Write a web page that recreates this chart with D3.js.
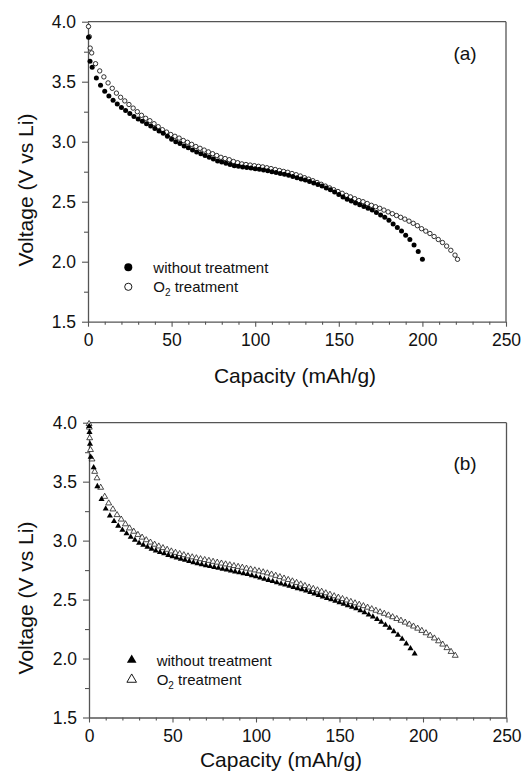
<!DOCTYPE html>
<html lang="en">
<head>
<meta charset="UTF-8">
<title>discharge curves</title>
<style>
    body { margin: 0; background: #fff; }
    svg { display: block; }
    .frame { stroke: #555; stroke-width: 1.3; fill: none; }
    .axis path { stroke: #555; stroke-width: 1.3; }
    .axis line { stroke: #555; stroke-width: 1.1; }
    .axis text { font-family: "Liberation Sans", Arial, sans-serif; font-size: 17.5px; fill: #111; }
    .title { font-family: "Liberation Sans", Arial, sans-serif; font-size: 21px; fill: #111; }
    .tag { font-family: "Liberation Sans", Arial, sans-serif; font-size: 19px; fill: #111; }
    .legend { font-family: "Liberation Sans", Arial, sans-serif; font-size: 15px; fill: #111; }
</style>
<script src="https://d3js.org/d3.v7.min.js"></script>
</head>
<body>
<svg id="chart" width="522" height="778"></svg>
<script>
// ticks
const capTicks = [0, 50, 100, 150, 200, 250];
const capMinor = [10, 20, 30, 40, 60, 70, 80, 90, 110, 120, 130, 140, 160, 170, 180, 190, 210, 220, 230, 240];
const voltTicks = [1.5, 2.0, 2.5, 3.0, 3.5, 4.0];
const voltMinor = [1.75, 2.25, 2.75, 3.25, 3.75];

// panel (a): [capacity mAh/g, voltage V]
const aWithout = [
    [0.3, 3.87], [1.2, 3.67], [2.5, 3.62], [5, 3.53], [7.5, 3.47], [10, 3.42], [12.5, 3.38], [15, 3.345],
    [17.5, 3.315], [20, 3.285], [22.5, 3.26], [25, 3.235], [27.5, 3.21], [30, 3.19], [32.5, 3.17], [35, 3.15],
    [37.5, 3.13], [40, 3.11], [42.5, 3.09], [45, 3.07], [47.5, 3.045], [50, 3.02], [52.5, 3.0], [55, 2.985],
    [57.5, 2.965], [60, 2.95], [62.5, 2.93], [65, 2.915], [67.5, 2.9], [70, 2.885], [72.5, 2.87], [75, 2.855],
    [77.5, 2.84], [80, 2.83], [82.5, 2.82], [85, 2.81], [87.5, 2.8], [90, 2.795], [92.5, 2.79], [95, 2.785],
    [97.5, 2.78], [100, 2.775], [102.5, 2.77], [105, 2.765], [107.5, 2.757], [110, 2.75], [112.5, 2.743], [115, 2.735],
    [117.5, 2.728], [120, 2.72], [122.5, 2.71], [125, 2.7], [127.5, 2.69], [130, 2.68], [132.5, 2.668], [135, 2.655],
    [137.5, 2.643], [140, 2.63], [142.5, 2.615], [145, 2.6], [147.5, 2.58], [150, 2.56], [152.5, 2.54], [155, 2.52],
    [157.5, 2.505], [160, 2.49], [162.5, 2.475], [165, 2.46], [167.5, 2.445], [170, 2.43], [172.5, 2.41], [175, 2.39],
    [177.5, 2.37], [180, 2.345], [182.5, 2.315], [185, 2.285], [187.5, 2.255], [190, 2.22], [192.5, 2.185], [195, 2.14],
    [197.5, 2.085], [200, 2.02]
];
const aO2 = [
    [0.3, 3.96], [0.8, 3.875], [1.3, 3.78], [2.2, 3.74], [4.5, 3.65], [7, 3.59], [9.5, 3.54], [12, 3.49],
    [14.5, 3.445], [17, 3.405], [19.5, 3.37], [22, 3.34], [24.5, 3.31], [27, 3.28], [29.5, 3.25], [32, 3.22],
    [34.5, 3.195], [37, 3.175], [39.5, 3.15], [42, 3.125], [44.5, 3.1], [47, 3.08], [49.5, 3.06], [52, 3.045],
    [54.5, 3.03], [57, 3.01], [59.5, 2.995], [62, 2.978], [64.5, 2.96], [67, 2.945], [69.5, 2.93], [72, 2.915],
    [74.5, 2.9], [77, 2.885], [79.5, 2.87], [82, 2.86], [84.5, 2.85], [87, 2.835], [89.5, 2.825], [92, 2.815],
    [94.5, 2.81], [97, 2.805], [99.5, 2.8], [102, 2.795], [104.5, 2.79], [107, 2.783], [109.5, 2.776], [112, 2.768],
    [114.5, 2.76], [117, 2.752], [119.5, 2.745], [122, 2.735], [124.5, 2.725], [127, 2.714], [129.5, 2.7], [132, 2.688],
    [134.5, 2.675], [137, 2.66], [139.5, 2.645], [142, 2.63], [144.5, 2.615], [147, 2.6], [149.5, 2.585], [152, 2.57],
    [154.5, 2.553], [157, 2.54], [159.5, 2.525], [162, 2.51], [164.5, 2.5], [167, 2.485], [169.5, 2.47], [172, 2.458],
    [174.5, 2.445], [177, 2.43], [179.5, 2.415], [182, 2.4], [184.5, 2.385], [187, 2.37], [189.5, 2.355], [192, 2.338],
    [194.5, 2.32], [197, 2.3], [199.5, 2.275], [202, 2.255], [204.5, 2.235], [207, 2.21], [209.5, 2.185], [212, 2.16],
    [214.5, 2.13], [217, 2.095], [219.5, 2.055], [221, 2.02]
];

// panel (b)
const bWithout = [
    [0.1, 3.97], [0.3, 3.92], [0.6, 3.82], [1, 3.71], [2.8, 3.62], [5, 3.46], [7.5, 3.35], [10, 3.27],
    [12.5, 3.21], [15, 3.165], [17.5, 3.125], [20, 3.09], [22.5, 3.06], [25, 3.03], [27.5, 3.005], [30, 2.98],
    [32.5, 2.962], [35, 2.945], [37.5, 2.93], [40, 2.915], [42.5, 2.902], [45, 2.89], [47.5, 2.877], [50, 2.865],
    [52.5, 2.855], [55, 2.845], [57.5, 2.835], [60, 2.825], [62.5, 2.815], [65, 2.805], [67.5, 2.797], [70, 2.79],
    [72.5, 2.782], [75, 2.775], [77.5, 2.767], [80, 2.76], [82.5, 2.752], [85, 2.745], [87.5, 2.737], [90, 2.73],
    [92.5, 2.722], [95, 2.715], [97.5, 2.705], [100, 2.695], [102.5, 2.685], [105, 2.675], [107.5, 2.665], [110, 2.655],
    [112.5, 2.645], [115, 2.635], [117.5, 2.625], [120, 2.615], [122.5, 2.605], [125, 2.595], [127.5, 2.585], [130, 2.575],
    [132.5, 2.562], [135, 2.55], [137.5, 2.537], [140, 2.525], [142.5, 2.512], [145, 2.5], [147.5, 2.487], [150, 2.475],
    [152.5, 2.462], [155, 2.45], [157.5, 2.437], [160, 2.425], [162.5, 2.408], [165, 2.39], [167.5, 2.372], [170, 2.355],
    [172.5, 2.333], [175, 2.31], [177.5, 2.285], [180, 2.26], [182.5, 2.23], [185, 2.2], [187.5, 2.165], [190, 2.125],
    [192.5, 2.085], [195, 2.04]
];
const bO2 = [
    [0.05, 3.99], [0.2, 3.96], [0.4, 3.87], [0.9, 3.77], [1.8, 3.69], [3.4, 3.585], [4.8, 3.53], [7, 3.45],
    [9.4, 3.373], [11.8, 3.317], [14.3, 3.266], [16.8, 3.218], [19.3, 3.18], [21.8, 3.14], [24.3, 3.105], [26.8, 3.077],
    [29.3, 3.05], [31.8, 3.027], [34.3, 3.005], [36.8, 2.985], [39.3, 2.967], [41.8, 2.952], [44.3, 2.938], [46.8, 2.924],
    [49.3, 2.91], [51.8, 2.898], [54.3, 2.888], [56.8, 2.878], [59.3, 2.868], [61.8, 2.86], [64.3, 2.852], [66.8, 2.844],
    [69.3, 2.837], [71.8, 2.83], [74.3, 2.822], [76.8, 2.815], [79.3, 2.807], [81.8, 2.8], [84.3, 2.793], [86.8, 2.786],
    [89.3, 2.779], [91.8, 2.772], [94.3, 2.764], [96.8, 2.757], [99.3, 2.749], [101.8, 2.741], [104.3, 2.733], [106.8, 2.724],
    [109.3, 2.714], [111.8, 2.703], [114.3, 2.692], [116.8, 2.68], [119.3, 2.668], [121.8, 2.656], [124.3, 2.643], [126.8, 2.63],
    [129.3, 2.617], [131.8, 2.604], [134.3, 2.592], [136.8, 2.58], [139.3, 2.568], [141.8, 2.555], [144.3, 2.543], [146.8, 2.53],
    [149.3, 2.518], [151.8, 2.506], [154.3, 2.494], [156.8, 2.482], [159.3, 2.47], [161.8, 2.458], [164.3, 2.446], [166.8, 2.433],
    [169.3, 2.42], [171.8, 2.407], [174.3, 2.394], [176.8, 2.381], [179.3, 2.367], [181.8, 2.352], [184.3, 2.337], [186.8, 2.322],
    [189.3, 2.306], [191.8, 2.29], [194.3, 2.273], [196.8, 2.255], [199.3, 2.236], [201.8, 2.216], [204.3, 2.195], [206.8, 2.172],
    [209.3, 2.148], [211.8, 2.12], [214.3, 2.09], [216.8, 2.058], [219.3, 2.025]
];

const svg = d3.select('#chart');

const panels = [
    { tag: '(a)', left: 88, right: 506, top: 21.7, bottom: 321.7, shape: 'circle',
      filled: aWithout, open: aO2, ytitle: 190, xtitle: [295, 383], tagY: 60, legY: 267.3, legX: 128.3 },
    { tag: '(b)', left: 89, right: 506.5, top: 422.7, bottom: 717.5, shape: 'triangle',
      filled: bWithout, open: bO2, ytitle: 598, xtitle: [281, 767], tagY: 470, legY: 660, legX: 131.7 }
];

function drawMarks(g, data, x, y, shape, solid) {
    if (shape === 'circle') {
        g.append('g').selectAll('circle')
            .data(data)
            .join('circle')
            .attr('cx', d => x(d[0]))
            .attr('cy', d => y(d[1]))
            .attr('r', solid ? 2.5 : 2.2)
            .attr('fill', solid ? '#000' : '#fff')
            .attr('stroke', '#000')
            .attr('stroke-width', solid ? 0 : 0.8);
    } else {
        const sym = d3.symbol().type(d3.symbolTriangle).size(solid ? 16 : 15);
        g.append('g').selectAll('path')
            .data(data)
            .join('path')
            .attr('transform', d => `translate(${x(d[0])},${y(d[1])})`)
            .attr('d', sym)
            .attr('fill', solid ? '#000' : '#fff')
            .attr('stroke', '#000')
            .attr('stroke-width', solid ? 0 : 0.7);
    }
}

function legendMark(g, cx, cy, shape, solid) {
    if (shape === 'circle') {
        g.append('circle').attr('cx', cx).attr('cy', cy).attr('r', solid ? 4 : 3.6)
            .attr('fill', solid ? '#000' : '#fff').attr('stroke', '#000').attr('stroke-width', solid ? 0 : 0.9);
    } else {
        g.append('path').attr('transform', `translate(${cx},${cy})`)
            .attr('d', d3.symbol().type(d3.symbolTriangle).size(40))
            .attr('fill', solid ? '#000' : '#fff').attr('stroke', '#000').attr('stroke-width', solid ? 0 : 0.9);
    }
}

panels.forEach(p => {
    const x = d3.scaleLinear().domain([0, 250]).range([p.left, p.right]);
    const y = d3.scaleLinear().domain([1.5, 4.0]).range([p.bottom, p.top]);
    const g = svg.append('g');

    // frame top / right
    g.append('line').attr('class', 'frame').attr('x1', p.left).attr('x2', p.right).attr('y1', p.top).attr('y2', p.top);
    g.append('line').attr('class', 'frame').attr('x1', p.right).attr('x2', p.right).attr('y1', p.top).attr('y2', p.bottom);

    g.append('g').attr('class', 'axis')
        .attr('transform', `translate(0,${p.bottom})`)
        .call(d3.axisBottom(x).tickValues(capMinor).tickSize(3).tickFormat(''))
        .call(a => a.select('.domain').remove());
    g.append('g').attr('class', 'axis')
        .attr('transform', `translate(0,${p.bottom})`)
        .call(d3.axisBottom(x).tickValues(capTicks).tickSize(5).tickSizeOuter(0).tickPadding(7).tickFormat(d3.format('d')));

    g.append('g').attr('class', 'axis')
        .attr('transform', `translate(${p.left},0)`)
        .call(d3.axisLeft(y).tickValues(voltMinor).tickSize(4).tickFormat(''))
        .call(a => a.select('.domain').remove());
    g.append('g').attr('class', 'axis')
        .attr('transform', `translate(${p.left},0)`)
        .call(d3.axisLeft(y).tickValues(voltTicks).tickSize(6).tickSizeOuter(0).tickPadding(6).tickFormat(d3.format('.1f')));

    g.append('text').attr('class', 'title')
        .attr('x', p.xtitle[0]).attr('y', p.xtitle[1])
        .attr('text-anchor', 'middle').text('Capacity (mAh/g)');
    g.append('text').attr('class', 'title')
        .attr('transform', `translate(33,${p.ytitle}) rotate(-90)`)
        .attr('text-anchor', 'middle').text('Voltage (V vs Li)');

    g.append('text').attr('class', 'tag').attr('x', 465).attr('y', p.tagY)
        .attr('text-anchor', 'middle').text(p.tag);

    drawMarks(g, p.open, x, y, p.shape, false);
    drawMarks(g, p.filled, x, y, p.shape, true);

    // legend
    legendMark(g, p.legX, p.legY, p.shape, true);
    legendMark(g, p.legX, p.legY + 19.5, p.shape, false);
    g.append('text').attr('class', 'legend').attr('x', p.legX + 25).attr('y', p.legY + 5.5).text('without treatment');
    const t2 = g.append('text').attr('class', 'legend').attr('x', p.legX + 25).attr('y', p.legY + 25);
    t2.append('tspan').text('O');
    t2.append('tspan').attr('dy', 4).style('font-size', '10px').text('2');
    t2.append('tspan').attr('dy', -4).text(' treatment');
});
</script>
</body>
</html>
